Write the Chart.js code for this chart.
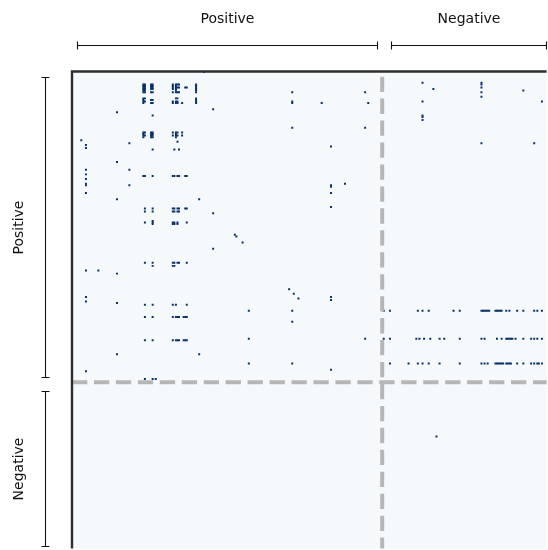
<!DOCTYPE html>
<html>
<head>
<meta charset="utf-8">
<title>Positive / Negative matrix</title>
<script src="https://cdn.jsdelivr.net/npm/chart.js@4.4.1/dist/chart.umd.min.js"></script>
<style>
  html, body { margin: 0; padding: 0; background: #fff; overflow: hidden; }
  #matrix { display: block; }
</style>
</head>
<body>
<canvas id="matrix" width="548" height="550"></canvas>
<script>
  // GROUPS (size in cells, the negative block is cut off by the picture)
  const groupNames = ["Positive", "Negative"];
  const groupSizes = [200, 106];

  // rows with filled cells, and the filled columns of each row
  const cellRows = [0, 7, 8, 9, 10, 11, 12, 13, 16, 17, 18, 19, 20, 24, 26, 28, 29, 31, 36,
    39, 40, 41, 42, 44, 45, 46, 47, 48, 49, 50, 58, 63, 66, 67, 69, 72, 73, 74, 78, 82,
    87, 88, 90, 91, 96, 97, 98, 105, 106, 110, 114, 123, 125, 128, 130, 140, 143, 145,
    146, 147, 148, 149, 150, 154, 158, 161, 172, 173, 182, 188, 192, 193, 198, 235];
  const cellCols = [
    [85],
    [226, 264],
    [46, 47, 51, 52, 65, 67, 68, 69, 80, 264],
    [46, 47, 51, 52, 65, 67, 80],
    [46, 47, 51, 52, 65, 67, 68, 69, 73, 74, 80, 264],
    [46, 47, 51, 52, 65, 67, 80, 233],
    [46, 47, 67, 80, 291],
    [46, 47, 51, 52, 65, 67, 68, 69, 80, 142, 189, 264],
    [264],
    [46, 47, 67, 68, 80],
    [46, 51, 52, 80],
    [46, 47, 65, 67, 68, 80, 142, 226, 303],
    [46, 51, 52, 65, 67, 68, 71, 80, 142, 161, 191],
    [91],
    [29],
    [52, 226],
    [226],
    [226],
    [142, 189],
    [46, 47, 51, 52, 65, 67, 68, 71],
    [46, 51, 52, 67],
    [46, 47, 51, 52, 65, 67, 68, 71],
    [46, 51, 52, 67],
    [6],
    [68],
    [37, 264, 298],
    [9],
    [167],
    [9],
    [52, 66, 69],
    [29],
    [9, 37],
    [9],
    [46, 47, 52, 65, 66, 68, 69, 73, 74],
    [9],
    [9, 176],
    [9, 37, 167],
    [167],
    [9, 167],
    [29, 82],
    [167],
    [47, 52, 65, 66, 68, 69, 73, 74],
    [47, 52, 65, 66, 68, 69],
    [91],
    [52],
    [47, 52, 65, 66, 68, 74],
    [52, 65, 66, 68],
    [105],
    [106],
    [110],
    [91],
    [47, 52, 65, 66, 68, 69, 74],
    [52, 65, 66],
    [9, 17],
    [29],
    [140],
    [143],
    [9, 167],
    [146],
    [167],
    [9],
    [29],
    [47, 52, 65, 67, 74],
    [114, 142, 201, 205, 223, 226, 230, 246, 250, 264, 265, 266, 267, 268, 269, 273, 274,
      275, 276, 277, 280, 282, 287, 291, 298, 300, 303],
    [47, 52, 65, 67, 68, 69, 72, 73, 74],
    [142],
    [114, 189, 201, 205, 222, 224, 227, 231, 237, 240, 250, 264, 266, 274, 277, 280, 281,
      282, 283, 284, 286, 291, 296, 298, 300, 303],
    [47, 52, 65, 67, 68, 69, 72, 73, 74],
    [29, 82],
    [114, 142, 205, 217, 223, 226, 230, 237, 250, 264, 266, 268, 273, 274, 275, 276, 277,
      278, 280, 281, 282, 283, 287, 291, 296, 298, 300, 301, 303],
    [167],
    [9],
    [47, 52, 54],
    [235]
  ];

  const cells = [];
  cellRows.forEach((r, i) => {
    cellCols[i].forEach((c) => cells.push({ x: c, y: r }));
  });

  const xMax = groupSizes[0] + groupSizes[1];
  const yMax = xMax * 478 / 476; // keep cells square in the cut-off area

  // background, separators, frame and group brackets
  const decor = {
    id: "decor",
    beforeDraw(chart) {
      const { ctx, chartArea: a } = chart;
      ctx.save();
      ctx.fillStyle = "#ffffff";
      ctx.fillRect(0, 0, chart.width, chart.height);
      ctx.fillStyle = "#f5f9fb";
      ctx.fillRect(a.left, a.top, a.right - a.left, a.bottom - a.top);
      ctx.restore();
    },
    afterDatasetsDraw(chart) {
      const { ctx, chartArea: a } = chart;
      const x = chart.scales.x;
      const y = chart.scales.y;
      const split = groupSizes[0];
      ctx.save();

      // dashed group separators
      ctx.strokeStyle = "#b6b6b6";
      ctx.lineWidth = 4;
      ctx.setLineDash([15.3, 6.65]);
      const sx = x.getPixelForValue(split);
      ctx.lineDashOffset = 17.3;
      ctx.beginPath();
      ctx.moveTo(sx, a.top);
      ctx.lineTo(sx, a.bottom);
      ctx.stroke();
      const sy = y.getPixelForValue(split);
      ctx.lineDashOffset = 0;
      ctx.beginPath();
      ctx.moveTo(a.left, sy);
      ctx.lineTo(a.right, sy);
      ctx.stroke();
      ctx.setLineDash([]);

      // frame, only left and top are in the picture
      ctx.strokeStyle = "#2e2e2e";
      ctx.lineWidth = 2.4;
      ctx.beginPath();
      ctx.moveTo(a.left, a.bottom);
      ctx.lineTo(a.left, a.top - 0.5);
      ctx.lineTo(a.right, a.top - 0.5);
      ctx.stroke();

      // brackets
      const spans = [[3.2, split - 3.5], [split + 5.5, xMax - 0.5]];
      const by = Math.round(a.top - 27) + 0.5;
      const bx = Math.round(a.left - 27) + 0.5;
      ctx.strokeStyle = "#111111";
      ctx.fillStyle = "#111111";
      ctx.lineWidth = 1.1;
      ctx.font = "14px 'DejaVu Sans'";
      ctx.textAlign = "center";
      ctx.textBaseline = "middle";
      spans.forEach((s, i) => {
        // top
        const x0 = Math.round(x.getPixelForValue(s[0])) + 0.5;
        const x1 = Math.round(x.getPixelForValue(s[1])) + 0.5;
        ctx.beginPath();
        ctx.moveTo(x0, by); ctx.lineTo(x1, by);
        ctx.moveTo(x0, by - 4); ctx.lineTo(x0, by + 4);
        ctx.moveTo(x1, by - 4); ctx.lineTo(x1, by + 4);
        ctx.stroke();
        ctx.fillText(groupNames[i], (x0 + x1) / 2, by - 26);
        // left
        const y0 = Math.round(y.getPixelForValue(s[0])) + 0.5;
        const y1 = Math.round(y.getPixelForValue(s[1])) + 0.5;
        ctx.beginPath();
        ctx.moveTo(bx, y0); ctx.lineTo(bx, y1);
        ctx.moveTo(bx - 4, y0); ctx.lineTo(bx + 4, y0);
        ctx.moveTo(bx - 4, y1); ctx.lineTo(bx + 4, y1);
        ctx.stroke();
        ctx.save();
        ctx.translate(bx - 26, (y0 + y1) / 2);
        ctx.rotate(-Math.PI / 2);
        ctx.fillText(groupNames[i], 0, 0);
        ctx.restore();
      });
      ctx.restore();
    }
  };

  new Chart("matrix", {
    type: "scatter",
    data: {
      datasets: [{
        data: cells,
        pointStyle: "rect",
        pointRadius: 1.4,
        pointHoverRadius: 1.4,
        pointBorderWidth: 0,
        pointBackgroundColor: "#08306b",
        backgroundColor: "#08306b"
      }]
    },
    options: {
      responsive: false,
      animation: false,
      events: [],
      layout: { padding: { left: 72, top: 72, right: 0, bottom: 0 } },
      scales: {
        x: { type: "linear", min: 0, max: xMax, display: false },
        y: { type: "linear", min: 0, max: yMax, reverse: true, display: false }
      },
      plugins: {
        legend: { display: false },
        tooltip: { enabled: false }
      }
    },
    plugins: [decor]
  });
</script>
</body>
</html>
